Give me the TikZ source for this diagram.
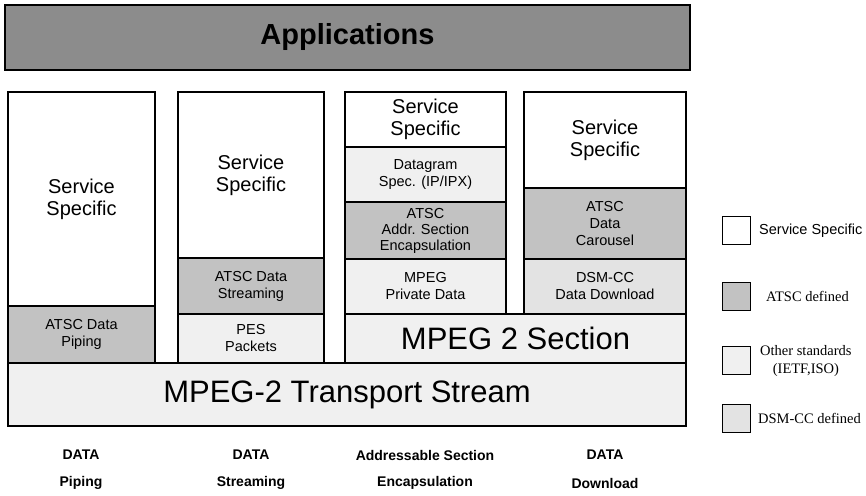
\documentclass[tikz,border=0pt]{standalone}
\usepackage{fontspec}
\setmainfont{Liberation Sans}
\newfontfamily\timesf{Liberation Serif}
\newcommand\blk[7]{\node[#6, minimum width={(#4-#2)*1pt}, minimum height={(#5-#3)*1pt}] (#1) at ({(#2+#4)/2},{(#3+#5)/2}) {#7};}
\begin{document}
\begin{tikzpicture}[x=1pt,y=-1pt,
  blkbase/.style={draw=black, line width=1.1pt, inner sep=0pt, outer sep=0pt, align=center, text=black},
  ss/.style={blkbase, fill=white},
  atsc/.style={blkbase, fill=black!24},
  oth/.style={blkbase, fill=black!6},
  dsm/.style={blkbase, fill=black!11},
  appbox/.style={blkbase, fill=black!45},
  fbig/.style={font=\fontsize{20}{22}\selectfont},
  fsm/.style={font=\fontsize{14.5}{17}\selectfont},
  fhuge/.style={font=\fontsize{31}{34}\selectfont},
  lab/.style={font=\bfseries\fontsize{14}{16}\selectfont, inner sep=0pt},
  legbox/.style={draw=black, line width=1pt, minimum width=28pt, minimum height=28pt, inner sep=0pt},
  legtxt/.style={anchor=west, align=center, inner sep=0pt, font=\timesf\fontsize{14.5}{18}\selectfont}
]
\useasboundingbox (0,0) rectangle (866,495);
\blk{app}{5}{5}{690}{70}{appbox, font=\bfseries\fontsize{29}{32}\selectfont}{Applications}
% column 1
\blk{c1ss}{8}{92}{155}{306}{ss,fbig}{Service\\Specific}
\blk{c1pipe}{8}{306}{155}{363}{atsc,fsm}{ATSC Data\\Piping}
% column 2
\blk{c2ss}{178}{92}{324}{258}{ss,fbig}{Service\\Specific}
\blk{c2str}{178}{258}{324}{314}{atsc,fsm}{ATSC Data\\Streaming}
\blk{c2pes}{178}{314}{324}{363}{oth,fsm}{PES\\Packets}
% column 3
\blk{c3ss}{345}{92}{506}{147}{ss,fbig}{Service\\Specific}
\blk{c3dg}{345}{147}{506}{202}{oth,fsm}{Datagram\\Spec. (IP/IPX)}
\blk{c3addr}{345}{202}{506}{259}{atsc,font=\fontsize{14.5}{16}\selectfont}{ATSC\\Addr. Section\\Encapsulation}
\blk{c3priv}{345}{259}{506}{314}{oth,fsm}{MPEG\\Private Data}
% column 4
\blk{c4ss}{524}{92}{686}{188}{ss,fbig}{Service\\Specific}
\blk{c4car}{524}{188}{686}{259}{atsc,font=\fontsize{14.5}{17}\selectfont}{ATSC\\Data\\Carousel}
\blk{c4dl}{524}{259}{686}{314}{dsm,fsm}{DSM-CC\\Data Download}
% base layers
\blk{sec}{345}{314}{686}{363}{oth,fhuge}{MPEG 2 Section}
\blk{ts}{8}{363}{686}{426}{oth,fhuge}{MPEG-2 Transport Stream}
% bottom labels
\node[lab] (l1a) at (81,455) {DATA};
\node[lab] (l1b) at (81,483) {Piping};
\node[lab] (l2a) at (251,455) {DATA};
\node[lab] (l2b) at (251,483) {Streaming};
\node[lab] (l3a) at (425,455) {Addressable Section};
\node[lab] (l3b) at (425,483) {Encapsulation};
\node[lab] (l4a) at (605,455) {DATA};
\node[lab] (l4b) at (605,483) {Download};
% legend
\node[legbox, fill=white] (k1) at (736,230) {};
\node[legbox, fill=black!24] (k2) at (736,296) {};
\node[legbox, fill=black!6] (k3) at (736,360) {};
\node[legbox, fill=black!11] (k4) at (736,418) {};
\node[legtxt, font=\fontsize{14.5}{18}\selectfont] (t1) at (759,231) {Service Specific};
\node[legtxt] (t2) at (766,296) {ATSC defined};
\node[legtxt] (t3) at (760,361) {Other standards\\(IETF,ISO)};
\node[legtxt] (t4) at (758,418) {DSM-CC defined};
\end{tikzpicture}
\end{document}
